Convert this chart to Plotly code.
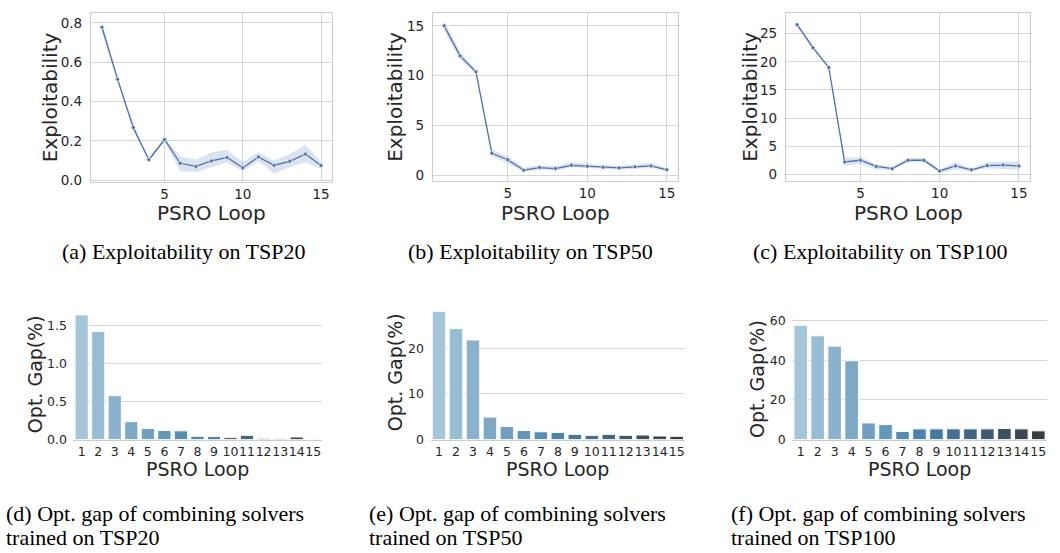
import colorsys
import plotly.graph_objects as go

W, H = 1060, 553

# ---------------- data ----------------
loops = list(range(1, 16))
loop_labels = [str(i) for i in loops]

# exploitability per PSRO loop (mean with confidence band)
expl_tsp20 = [0.778, 0.513, 0.268, 0.104, 0.207, 0.086, 0.070, 0.098, 0.116, 0.063, 0.118, 0.076, 0.096, 0.133, 0.075]
expl_tsp20_lo = [0.755, 0.505, 0.250, 0.095, 0.195, 0.045, 0.040, 0.066, 0.091, 0.045, 0.095, 0.033, 0.066, 0.091, 0.058]
expl_tsp20_hi = [0.810, 0.520, 0.285, 0.110, 0.215, 0.120, 0.105, 0.141, 0.154, 0.094, 0.141, 0.100, 0.132, 0.182, 0.091]

expl_tsp50 = [15.0, 11.98, 10.38, 2.21, 1.56, 0.52, 0.78, 0.68, 1.0, 0.91, 0.81, 0.75, 0.85, 0.94, 0.55]
expl_tsp50_lo = [14.5, 11.6, 10.2, 1.9, 1.2, 0.35, 0.55, 0.45, 0.8, 0.7, 0.6, 0.55, 0.65, 0.75, 0.4]
expl_tsp50_hi = [15.5, 12.4, 10.6, 2.6, 1.9, 0.75, 1.0, 0.9, 1.3, 1.15, 1.0, 0.95, 1.05, 1.25, 0.7]

expl_tsp100 = [26.6, 22.5, 19.0, 2.2, 2.5, 1.4, 1.0, 2.5, 2.5, 0.6, 1.5, 0.8, 1.55, 1.65, 1.5]
expl_tsp100_lo = [26.2, 22.1, 18.7, 1.5, 1.9, 0.9, 0.8, 2.1, 2.1, 0.3, 0.9, 0.5, 1.1, 1.0, 0.8]
expl_tsp100_hi = [27.0, 22.9, 19.3, 2.9, 3.1, 1.8, 1.3, 2.9, 2.9, 0.9, 2.2, 1.1, 2.1, 2.3, 2.2]

# optimality gap (%) of the combined solvers per PSRO loop
gap_tsp20 = [1.646, 1.427, 0.58, 0.236, 0.146, 0.12, 0.116, 0.043, 0.039, 0.03, 0.056, 0.017, 0.013, 0.034, 0.004]
gap_tsp50 = [28.14, 24.36, 21.86, 4.93, 2.86, 2.0, 1.71, 1.57, 1.14, 0.93, 1.14, 0.93, 1.0, 0.79, 0.71]
gap_tsp100 = [57.7, 52.4, 47.2, 39.8, 8.4, 7.56, 4.1, 5.4, 5.4, 5.4, 5.4, 5.4, 5.6, 5.4, 4.4]

top_captions = ["(a) Exploitability on TSP20", "(b) Exploitability on TSP50", "(c) Exploitability on TSP100"]
bottom_captions = [
    ("(d) Opt. gap of combining solvers", "trained on TSP20"),
    ("(e) Opt. gap of combining solvers", "trained on TSP50"),
    ("(f) Opt. gap of combining solvers", "trained on TSP100"),
]

# ---------------- styling helpers ----------------
LINE_BLUE = "#4c72b0"
BAND = "rgba(76,114,176,0.2)"
GRID = "#d6d6d6"
SPINE = "#cccccc"
TXT = "#262626"
SANS = "DejaVu Sans"
SERIF = "Liberation Serif"
CAP_SIZE = 22


def blues_d(n):
    """Light-blue -> dark-grey blend, desaturated like a seaborn bar palette."""
    anchors = [(171, 208, 230), (55, 135, 192), (51, 51, 51)]
    out = []
    for i in range(1, n + 1):
        t = i / (n + 1)
        if t <= 0.5:
            a, b, f = anchors[0], anchors[1], t / 0.5
        else:
            a, b, f = anchors[1], anchors[2], (t - 0.5) / 0.5
        rgb = [(a[k] + (b[k] - a[k]) * f) / 255 for k in range(3)]
        h, l, s = colorsys.rgb_to_hls(*rgb)
        r, g, bb = colorsys.hls_to_rgb(h, l, s * 0.75)
        out.append("rgb(%d,%d,%d)" % (round(r * 255), round(g * 255), round(bb * 255)))
    return out


def xdom(x0, x1):
    return [x0 / W, x1 / W]


def ydom(top, bottom):
    return [1 - bottom / H, 1 - top / H]


fig = go.Figure()
annotations = []

# ---------------- line panels ----------------
line_panels = [
    dict(mean=expl_tsp20, lo=expl_tsp20_lo, hi=expl_tsp20_hi, xd=(91, 332), yd=(7, 180),
         yr=[-0.008, 0.851], yt=[0, 0.2, 0.4, 0.6, 0.8], fmt=".1f", ylab_x=50),
    dict(mean=expl_tsp50, lo=expl_tsp50_lo, hi=expl_tsp50_hi, xd=(433, 678), yd=(7, 179),
         yr=[-0.55, 16.3], yt=[0, 5, 10, 15], fmt="d", ylab_x=395),
    dict(mean=expl_tsp100, lo=expl_tsp100_lo, hi=expl_tsp100_hi, xd=(786, 1030), yd=(7, 179),
         yr=[-1.15, 28.7], yt=[0, 5, 10, 15, 20, 25], fmt="d", ylab_x=750),
]

for i, p in enumerate(line_panels):
    n = i + 1
    xa, ya = ("x" if n == 1 else "x%d" % n), ("y" if n == 1 else "y%d" % n)
    fig.add_trace(go.Scatter(x=loops, y=p["hi"], mode="lines", line=dict(width=0),
                             hoverinfo="skip", showlegend=False, xaxis=xa, yaxis=ya))
    fig.add_trace(go.Scatter(x=loops, y=p["lo"], mode="lines", line=dict(width=0),
                             fill="tonexty", fillcolor=BAND, hoverinfo="skip",
                             showlegend=False, xaxis=xa, yaxis=ya))
    fig.add_trace(go.Scatter(x=loops, y=p["mean"], mode="lines+markers",
                             line=dict(color=LINE_BLUE, width=1.3),
                             marker=dict(size=4, color=LINE_BLUE, line=dict(color="white", width=0.6)),
                             showlegend=False, xaxis=xa, yaxis=ya))
    axis_common = dict(showgrid=True, gridcolor=GRID, gridwidth=1.1, zeroline=False,
                       showline=True, linecolor=SPINE, linewidth=1.2, mirror=True,
                       tickcolor="rgba(0,0,0,0)",
                       tickfont=dict(family=SANS, size=13.5, color=TXT))
    fig.update_layout(**{
        ("xaxis" if n == 1 else "xaxis%d" % n): dict(
            domain=xdom(*p["xd"]), anchor=ya, range=[0.3, 15.7],
            tickvals=[5, 10, 15], ticks="", **axis_common),
        ("yaxis" if n == 1 else "yaxis%d" % n): dict(
            domain=ydom(*p["yd"]), anchor=xa, range=p["yr"],
            tickvals=p["yt"], tickformat=p["fmt"], ticks="outside", ticklen=5, **axis_common),
    })
    cx = (p["xd"][0] + p["xd"][1]) / 2
    cy = (p["yd"][0] + p["yd"][1]) / 2
    annotations.append(dict(text="PSRO Loop", x=cx / W, y=1 - 212 / H, xref="paper", yref="paper",
                            showarrow=False, font=dict(family=SANS, size=20, color=TXT),
                            xanchor="center", yanchor="middle"))
    annotations.append(dict(text="Exploitability", x=p["ylab_x"] / W, y=1 - cy / H, xref="paper",
                            yref="paper", showarrow=False, textangle=-90,
                            font=dict(family=SANS, size=20, color=TXT),
                            xanchor="center", yanchor="middle"))

# ---------------- bar panels ----------------
bar_colors = blues_d(15)
bar_panels = [
    dict(vals=gap_tsp20, xd=(73.4, 321.5), yd=(310, 444), yr=[0, 1.728],
         yt=[0, 0.5, 1.0, 1.5], fmt=".1f", ylab=(35, 377)),
    dict(vals=gap_tsp50, xd=(430.5, 685.2), yd=(306.3, 444), yr=[0, 29.5],
         yt=[0, 10, 20], fmt="d", ylab=(395, 375)),
    dict(vals=gap_tsp100, xd=(792.2, 1046.8), yd=(321.1, 444), yr=[0, 60.6],
         yt=[0, 20, 40, 60], fmt="d", ylab=(757, 382)),
]

for i, p in enumerate(bar_panels):
    n = i + 4
    xa, ya = "x%d" % n, "y%d" % n
    fig.add_trace(go.Bar(x=loop_labels, y=p["vals"], width=0.8,
                         marker=dict(color=bar_colors, line=dict(color="white", width=1)),
                         showlegend=False, xaxis=xa, yaxis=ya))
    fig.update_layout(**{
        "xaxis%d" % n: dict(domain=xdom(*p["xd"]), anchor=ya, type="category",
                            range=[-0.5, 14.5], showgrid=False, zeroline=False,
                            showline=True, linecolor=SPINE, linewidth=1.2,
                            ticks="", tickangle=0,
                            tickfont=dict(family=SANS, size=12.5, color=TXT)),
        "yaxis%d" % n: dict(domain=ydom(*p["yd"]), anchor=xa, range=p["yr"],
                            tickvals=p["yt"], tickformat=p["fmt"], showgrid=True,
                            gridcolor=GRID, gridwidth=1.1, zeroline=False, showline=False,
                            ticks="outside", ticklen=3, tickcolor="rgba(0,0,0,0)",
                            tickfont=dict(family=SANS, size=12.5, color=TXT)),
    })
    cx = (p["xd"][0] + p["xd"][1]) / 2
    annotations.append(dict(text="PSRO Loop", x=cx / W, y=1 - 474 / H, xref="paper", yref="paper",
                            showarrow=False, font=dict(family=SANS, size=19, color=TXT),
                            xanchor="center", yanchor="middle"))
    annotations.append(dict(text="Opt. Gap(%)", x=p["ylab"][0] / W, y=1 - p["ylab"][1] / H,
                            xref="paper", yref="paper", showarrow=False, textangle=-90,
                            font=dict(family=SANS, size=19, color=TXT),
                            xanchor="center", yanchor="middle"))

# ---------------- captions ----------------
for cap, cx in zip(top_captions, [183, 530, 880]):
    annotations.append(dict(text=cap, x=cx / W, y=1 - 251 / H, xref="paper", yref="paper",
                            showarrow=False, font=dict(family=SERIF, size=CAP_SIZE, color="black"),
                            xanchor="center", yanchor="middle"))
for (l1, l2), x0 in zip(bottom_captions, [4, 367, 729]):
    annotations.append(dict(text=l1, x=x0 / W, y=1 - 520 / H, xref="paper", yref="paper",
                            showarrow=False, font=dict(family=SERIF, size=CAP_SIZE, color="black"),
                            xanchor="left", yanchor="middle"))
    annotations.append(dict(text=l2, x=x0 / W, y=1 - 544.5 / H, xref="paper", yref="paper",
                            showarrow=False, font=dict(family=SERIF, size=CAP_SIZE, color="black"),
                            xanchor="left", yanchor="middle"))

fig.update_layout(width=W, height=H, margin=dict(l=0, r=0, t=0, b=0),
                  paper_bgcolor="white", plot_bgcolor="white",
                  annotations=annotations, bargap=0.2)

fig.write_html("out.html")
